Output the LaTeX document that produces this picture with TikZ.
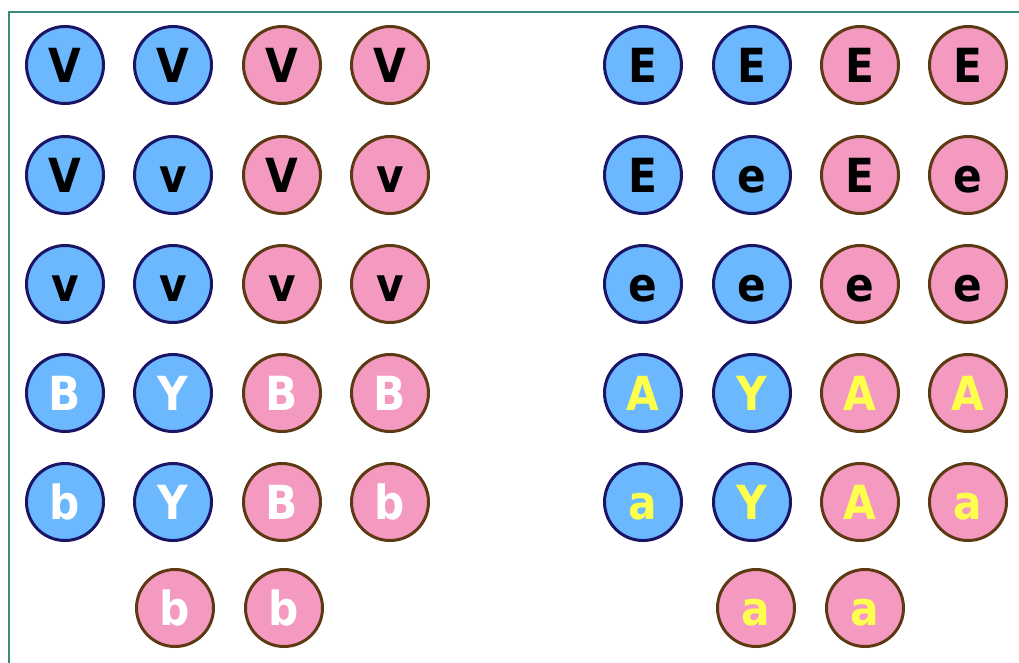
\documentclass[tikz,border=0pt]{standalone}
\usepackage{fontspec}
\setmainfont{DejaVu Sans}
\newfontfamily\ballfont{DejaVu Sans}[FakeStretch=0.9]
\definecolor{bfill}{HTML}{6BB8FF}
\definecolor{bline}{HTML}{1B1566}
\definecolor{pfill}{HTML}{F49AC1}
\definecolor{pline}{HTML}{5E3A14}
\definecolor{ytext}{HTML}{FFFF4D}
\definecolor{frame}{HTML}{3A8C7A}
\tikzset{
  ball/.style={circle, line width=3pt, minimum size=77pt, inner sep=0pt,
    text height=34pt, text depth=0pt,
    font=\ballfont\fontsize{47}{47}\selectfont\bfseries},
  blueball/.style={ball, draw=bline, fill=bfill},
  pinkball/.style={ball, draw=pline, fill=pfill},
  blk/.style={text=black},
  wht/.style={text=white},
  yel/.style={text=ytext}
}
\begin{document}
\begin{tikzpicture}[x=1pt,y=-1pt]
\useasboundingbox (0,0) rectangle (1019,662);
\draw[frame, line width=2.5pt] (9,12) rectangle (1040,690);
% left group
\node[blueball,blk] (l11) at (65,65) {V};
\node[blueball,blk] (l12) at (173,65) {V};
\node[pinkball,blk] (l13) at (282,65) {V};
\node[pinkball,blk] (l14) at (390,65) {V};
\node[blueball,blk] (l21) at (65,175) {V};
\node[blueball,blk] (l22) at (173,175) {v};
\node[pinkball,blk] (l23) at (282,175) {V};
\node[pinkball,blk] (l24) at (390,175) {v};
\node[blueball,blk] (l31) at (65,284) {v};
\node[blueball,blk] (l32) at (173,284) {v};
\node[pinkball,blk] (l33) at (282,284) {v};
\node[pinkball,blk] (l34) at (390,284) {v};
\node[blueball,wht] (l41) at (65,393) {B};
\node[blueball,wht] (l42) at (173,393) {Y};
\node[pinkball,wht] (l43) at (282,393) {B};
\node[pinkball,wht] (l44) at (390,393) {B};
\node[blueball,wht] (l51) at (65,502) {b};
\node[blueball,wht] (l52) at (173,502) {Y};
\node[pinkball,wht] (l53) at (282,502) {B};
\node[pinkball,wht] (l54) at (390,502) {b};
\node[pinkball,wht] (l61) at (175,608) {b};
\node[pinkball,wht] (l62) at (284,608) {b};
% right group
\node[blueball,blk] (r11) at (643,65) {E};
\node[blueball,blk] (r12) at (752,65) {E};
\node[pinkball,blk] (r13) at (860,65) {E};
\node[pinkball,blk] (r14) at (968,65) {E};
\node[blueball,blk] (r21) at (643,175) {E};
\node[blueball,blk] (r22) at (752,175) {e};
\node[pinkball,blk] (r23) at (860,175) {E};
\node[pinkball,blk] (r24) at (968,175) {e};
\node[blueball,blk] (r31) at (643,284) {e};
\node[blueball,blk] (r32) at (752,284) {e};
\node[pinkball,blk] (r33) at (860,284) {e};
\node[pinkball,blk] (r34) at (968,284) {e};
\node[blueball,yel] (r41) at (643,393) {A};
\node[blueball,yel] (r42) at (752,393) {Y};
\node[pinkball,yel] (r43) at (860,393) {A};
\node[pinkball,yel] (r44) at (968,393) {A};
\node[blueball,yel] (r51) at (643,502) {a};
\node[blueball,yel] (r52) at (752,502) {Y};
\node[pinkball,yel] (r53) at (860,502) {A};
\node[pinkball,yel] (r54) at (968,502) {a};
\node[pinkball,yel] (r61) at (756,608) {a};
\node[pinkball,yel] (r62) at (865,608) {a};
\end{tikzpicture}
\end{document}
